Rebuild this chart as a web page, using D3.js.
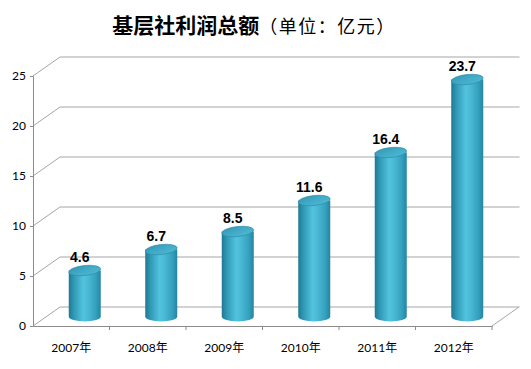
<!DOCTYPE html>
<html><head><meta charset="utf-8">
<script src="https://cdn.jsdelivr.net/npm/d3@7/dist/d3.min.js"></script>
<style>html,body{margin:0;padding:0;background:#fff;}svg{display:block;}</style>
</head><body>
<script>
const categories = ["2007年","2008年","2009年","2010年","2011年","2012年"];
const values = [4.6, 6.7, 8.5, 11.6, 16.4, 23.7];
const yTicks = [0, 5, 10, 15, 20, 25];
const titleMain = "基层社利润总额";
const titleUnit = "（单位：亿元）";

const W = 531, H = 369;
const svg = d3.select("body").append("svg").attr("width", W).attr("height", H);

const x = d3.scaleBand().domain(categories).range([33, 492]).paddingInner(0).paddingOuter(0);
const y = d3.scaleLinear().domain([0, 25]).range([326, 76]);
const DX = 27, DY = -19;

const defs = svg.append("defs");
const g1 = defs.append("linearGradient").attr("id","body").attr("x1","0").attr("x2","1").attr("y1","0").attr("y2","0");
[[0,"#1f7892"],[0.15,"#2f97b4"],[0.45,"#52c3de"],[0.6,"#4bb9d5"],[0.85,"#33a0be"],[1,"#2784a0"]].forEach(s=>g1.append("stop").attr("offset",s[0]).attr("stop-color",s[1]));
const g2 = defs.append("linearGradient").attr("id","top").attr("x1","0").attr("x2","1").attr("y1","0").attr("y2","1");
[[0,"#3395b1"],[0.5,"#42abc8"],[1,"#4fbbd6"]].forEach(s=>g2.append("stop").attr("offset",s[0]).attr("stop-color",s[1]));

const t = svg.append("text").attr("x", 254).attr("y", 33).attr("text-anchor","middle")
  .attr("font-family","'Noto Sans CJK SC', sans-serif").attr("fill","#000");
t.append("tspan").attr("font-size", 21).attr("font-weight","bold").text(titleMain);
t.append("tspan").attr("font-size", 18).attr("font-weight","normal").attr("letter-spacing", 1.5).text(titleUnit);

const gridColor = "#a6a6a6", axisColor = "#8c8c8c";
yTicks.forEach(v => {
  svg.append("line").attr("x1", 33 + DX).attr("x2", 492 + DX + 0.5).attr("y1", y(v) + DY).attr("y2", y(v) + DY)
    .attr("stroke", gridColor).attr("stroke-width", 1);
  svg.append("line").attr("x1", 33).attr("y1", y(v)).attr("x2", 33 + DX).attr("y2", y(v) + DY)
    .attr("stroke", gridColor).attr("stroke-width", 1);
});
svg.append("line").attr("x1", 492).attr("y1", y(0)).attr("x2", 492 + DX).attr("y2", y(0) + DY)
  .attr("stroke", gridColor).attr("stroke-width", 1);

const yAxis = d3.axisLeft(y).tickValues(yTicks).tickSize(3).tickPadding(4);
const ya = svg.append("g").attr("transform","translate(33,0)").call(yAxis);
ya.select(".domain").attr("stroke", axisColor);
ya.selectAll(".tick line").attr("stroke", axisColor);
ya.selectAll("text").attr("font-family","Lato, 'Open Sans', sans-serif").attr("font-size", 12).attr("fill","#000");

const xAxis = d3.axisBottom(x).tickSize(0).tickPadding(17);
const xa = svg.append("g").attr("transform", `translate(0,${y(0)})`).call(xAxis);
xa.select(".domain").attr("stroke", axisColor);
xa.selectAll("text").attr("font-family","Lato, 'Noto Sans CJK SC', sans-serif").attr("font-size", 12).attr("fill","#000");
categories.forEach((c, i) => {
  const bx = x(c) + x.bandwidth();
  xa.append("line").attr("x1", bx).attr("x2", bx).attr("y1", 0).attr("y2", 4).attr("stroke", axisColor);
});

const R = 16, RY = 5;
categories.forEach((c, i) => {
  const cx = x(c) + x.bandwidth() / 2 + DX / 2;
  const base = y(0) + DY / 2;
  const top = y(values[i]) + DY / 2;
  const g = svg.append("g");
  g.append("path").attr("d",
    `M${cx - R},${top} L${cx - R},${base} A${R},${RY} 0 0 0 ${cx + R},${base} L${cx + R},${top} Z`)
    .attr("fill","url(#body)");
  g.append("ellipse").attr("cx", cx).attr("cy", top).attr("rx", R).attr("ry", RY)
    .attr("fill","url(#top)").attr("stroke","#2a88a5").attr("stroke-width",0.6)
    .attr("transform", `rotate(-6 ${cx} ${top})`);
  svg.append("text").attr("x", cx - 5).attr("y", top - 9).attr("text-anchor","middle")
    .attr("font-family","'Liberation Sans', Arial, sans-serif").attr("font-weight","bold")
    .attr("font-size", 14).attr("fill","#000").text(values[i]);
});
</script>
</body></html>
